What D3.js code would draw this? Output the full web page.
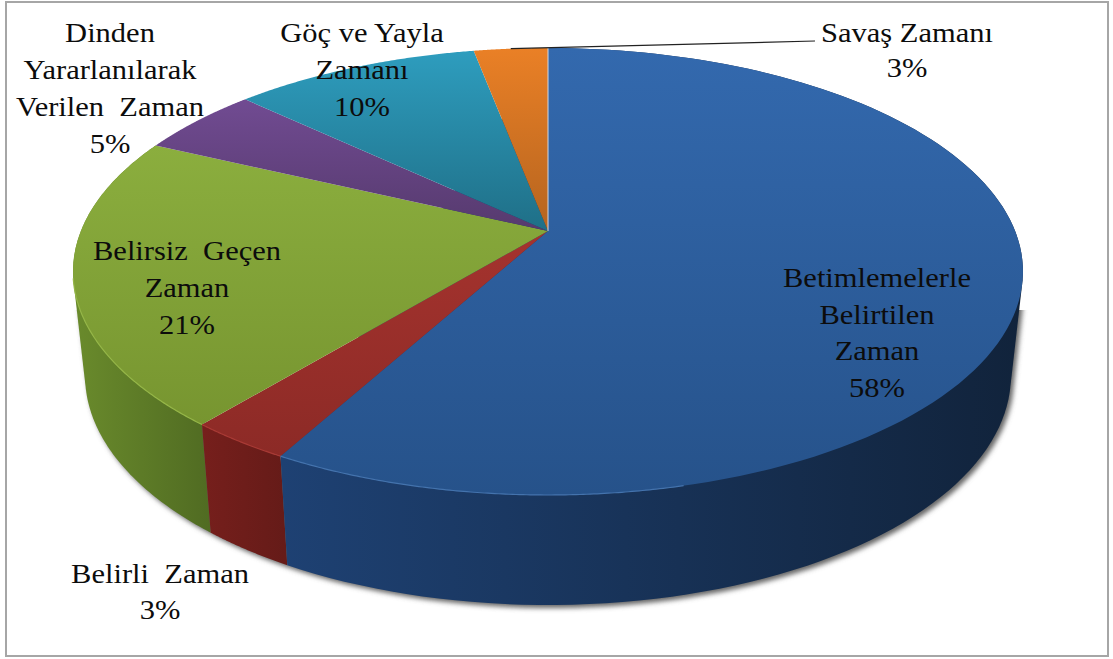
<!DOCTYPE html>
<html>
<head>
<meta charset="utf-8">
<script src="https://cdn.jsdelivr.net/npm/d3@7/dist/d3.min.js"></script>
<style>
  html, body { margin: 0; padding: 0; background: #fff; }
  svg { display: block; }
  text { font-family: "Liberation Serif", serif; font-size: 28px; fill: #0c0c0c; text-anchor: middle; white-space: pre; }
</style>
</head>
<body>
<svg id="chart" width="1113" height="659"></svg>
<script>
// Shares of each kind of time, clockwise from twelve o'clock
const categories = [
  "Betimlemelerle Belirtilen Zaman",
  "Belirli  Zaman",
  "Belirsiz  Geçen Zaman",
  "Dinden Yararlanılarak Verilen  Zaman",
  "Göç ve Yayla Zamanı",
  "Savaş Zamanı"
];
const shares = [58, 3, 21, 5, 10, 3];

// Line breaks of each label, in the same order as the categories
const labelLines = [
  ["Betimlemelerle", "Belirtilen", "Zaman"],
  ["Belirli  Zaman"],
  ["Belirsiz  Geçen", "Zaman"],
  ["Dinden", "Yararlanılarak", "Verilen  Zaman"],
  ["Göç ve Yayla", "Zamanı"],
  ["Savaş Zamanı"]
];

// Layout and palette, kept apart from the values
const labelAnchor = [[877, 287, 36.7], [160, 583, 36], [187, 260, 37], [110, 42, 37], [362, 42, 37], [907, 42, 35.5]];
const textStretch = 1.09;
const topColors = [
  ["#3369ae", "#26528a"], ["#a5332e", "#8c2a26"], ["#8bae3e", "#779530"],
  ["#714b92", "#563a6e"], ["#2e9dbe", "#1f6f87"], ["#ea8026", "#b5641f"]
];
const sideColors = [
  ["#1e4173", "#11233b"], ["#761f1c", "#651b18"], ["#6a8b2c", "#506b22"],
  ["#444", "#444"], ["#444", "#444"], ["#444", "#444"]
];
const rimColors = ["#4473ad", "#a83a35", "#95b648", null, null, null];

const W = 1113, H = 659;
const svg = d3.select("#chart");
const defs = svg.append("defs");

// Tilted disc: a circle seen in perspective, so the hub sits above the ellipse centre
const hub = { x: 548, y: 231 };
const persp = -0.1812, spreadY = 174.3, spreadX = 467.1;
const project = a => {
  const u = Math.sin(a), v = -Math.cos(a), d = 1 + persp * v;
  return [hub.x + spreadX * u / d, (hub.y + spreadY * v) / d];
};
// Lower rim of the disc: the upper rim shrunk towards the far plane and moved down
const lowerX = d3.scaleLinear().domain([73, 1023]).range([85, 1011]);
const lowerY = d3.scaleLinear().domain([48, 494]).range([375 - 229, 375 + 229]);
const projectLower = a => { const [x, y] = project(a); return [lowerX(x), lowerY(y)]; };

const arcPoints = (s, e, fn) => d3.range(0, 121).map(i => fn(s + (e - s) * i / 120));
const pathOf = d3.line();

const slices = d3.pie().sort(null).value(d => d)(shares);

const gradient = (id, c, horizontal) => {
  const g = defs.append("linearGradient").attr("id", id)
    .attr("x1", 0).attr("y1", 0).attr("x2", horizontal ? 1 : 0).attr("y2", horizontal ? 0 : 1);
  g.append("stop").attr("offset", "0%").attr("stop-color", c[0]);
  g.append("stop").attr("offset", "100%").attr("stop-color", c[1]);
};
slices.forEach((s, i) => {
  gradient("top" + i, topColors[i], false);
  gradient("side" + i, sideColors[i], true);
});
defs.append("filter").attr("id", "soft").attr("x", "-5%").attr("y", "-5%").attr("width", "110%").attr("height", "110%")
  .append("feGaussianBlur").attr("stdDeviation", 2.5);
// The shadow only falls on the lower part of the disc
defs.append("clipPath").attr("id", "lowerPart").append("rect")
  .attr("x", 0).attr("y", 310).attr("width", W).attr("height", H - 310);

// Frame
svg.append("rect").attr("x", 6).attr("y", 2).attr("width", W - 11).attr("height", H - 5)
  .attr("fill", "#fff").attr("stroke", "#a6a6a6").attr("stroke-width", 2);

// Wall of a slice: the hull of its upper and lower rim arcs
const sidePath = s => {
  const top = arcPoints(s.startAngle, s.endAngle, project);
  const low = arcPoints(s.startAngle, s.endAngle, projectLower);
  return pathOf(d3.polygonHull(top.concat(low))) + "Z";
};
const frontSlices = slices.map((s, i) => ({ s, i })).filter(d => rimColors[d.i]);
const paintOrder = frontSlices.slice().reverse();

// Soft shadow under the lower rim
svg.append("g").attr("clip-path", "url(#lowerPart)")
  .append("g").attr("filter", "url(#soft)").attr("transform", "translate(3,3)")
  .selectAll("path").data(paintOrder).join("path")
  .attr("d", d => sidePath(d.s)).attr("fill", "#666");

// Outer wall of the slices facing the viewer
svg.append("g").selectAll("path").data(paintOrder).join("path")
  .attr("d", d => sidePath(d.s))
  .attr("fill", d => `url(#side${d.i})`);

// Top face
svg.append("g").selectAll("path").data(slices).join("path")
  .attr("d", s => pathOf([[hub.x, hub.y]].concat(arcPoints(s.startAngle, s.endAngle, project))) + "Z")
  .attr("fill", (s, i) => `url(#top${i})`);

// Thin separator where the first and last slices meet
svg.append("path")
  .attr("d", pathOf([[hub.x, hub.y], project(0)]))
  .attr("stroke", "#cfd8e4").attr("stroke-width", 1).attr("fill", "none");

// Bevel highlight along the front edge of the top face
svg.append("g").selectAll("path").data(frontSlices).join("path")
  .attr("fill", "none").attr("stroke", d => rimColors[d.i]).attr("stroke-width", 1.2)
  .attr("d", d => pathOf(arcPoints(Math.max(d.s.startAngle, 2.9), Math.min(d.s.endAngle, 4.5), project)));

// Leader line for the smallest upper slice
const lastSlice = slices[slices.length - 1];
const leaderStart = project((lastSlice.startAngle + lastSlice.endAngle) / 2);
svg.append("path").attr("fill", "none").attr("stroke", "#222").attr("stroke-width", 1.2)
  .attr("d", pathOf([leaderStart, [815, 41]]));

// Labels: category lines followed by the percentage
const labels = svg.append("g").selectAll("text")
  .data(categories.map((c, i) => ({ c, i })))
  .join("text")
  .attr("aria-label", d => d.c)
  .attr("transform", d => `translate(${labelAnchor[d.i][0]},0) scale(${textStretch},1)`);
labels.each(function (d) {
  const [, y, step] = labelAnchor[d.i];
  const lines = labelLines[d.i].concat(`${shares[d.i]}%`);
  d3.select(this).selectAll("tspan").data(lines).join("tspan")
    .attr("x", 0).attr("y", (l, k) => y + k * step).text(l => l);
});
</script>
</body>
</html>
